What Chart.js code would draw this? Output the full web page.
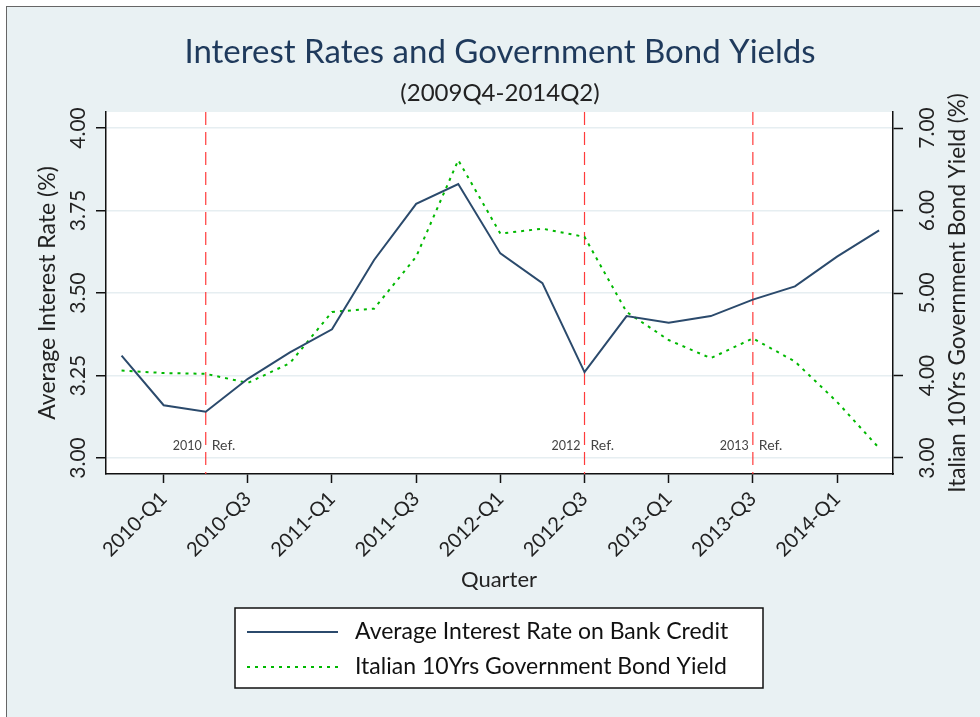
<!DOCTYPE html>
<html>
<head>
<meta charset="utf-8">
<script src="https://cdn.jsdelivr.net/npm/chart.js@4"></script>
<style>
  body { margin: 0; background: #ffffff; }
  #wrap { position: absolute; left: 0; top: 0; width: 980px; height: 717px; }
  #frame { position: absolute; left: 6px; top: 6px; right: 0; bottom: 0;
           background: #e9f1f3; border-top: 1px solid #666; border-left: 1px solid #666; }
  canvas { position: absolute; left: 0; top: 0; }
</style>
</head>
<body>
<div id="wrap">
  <div id="frame"></div>
  <canvas id="chart" width="980" height="717"></canvas>
</div>
<script>
// donnees
const quarters = ['2009-Q4','2010-Q1','2010-Q2','2010-Q3','2010-Q4','2011-Q1','2011-Q2','2011-Q3','2011-Q4',
  '2012-Q1','2012-Q2','2012-Q3','2012-Q4','2013-Q1','2013-Q2','2013-Q3','2013-Q4','2014-Q1','2014-Q2'];
const bankRate = [3.31, 3.16, 3.14, 3.24, 3.32, 3.39, 3.60, 3.77, 3.83,
  3.62, 3.53, 3.26, 3.43, 3.41, 3.43, 3.48, 3.52, 3.61, 3.69];
const bondYield = [4.06, 4.03, 4.02, 3.91, 4.15, 4.77, 4.81, 5.44, 6.61,
  5.72, 5.78, 5.68, 4.77, 4.43, 4.21, 4.45, 4.17, 3.68, 3.12];
const leftTicks = [3.00, 3.25, 3.50, 3.75, 4.00];
const rightTicks = [3.00, 4.00, 5.00, 6.00, 7.00];
const refQuarters = ['2010-Q2', '2012-Q3', '2013-Q3'];
const refYears = ['2010', '2012', '2013'];

const FONT = 'Lato, "Open Sans", sans-serif';

const decor = {
  id: 'decor',
  beforeDraw(chart) { // fond blanc de la zone du graphique
    const {ctx, chartArea: a} = chart;
    ctx.save();
    ctx.fillStyle = '#ffffff';
    ctx.fillRect(a.left, a.top, a.right - a.left, a.bottom - a.top);
    ctx.restore();
  },
  beforeDatasetsDraw(chart) { // lignes de reference rouges
    const {ctx, chartArea: a, scales} = chart;
    ctx.save();
    refQuarters.forEach((q, k) => {
      const x = scales.x.getPixelForValue(quarters.indexOf(q));
      ctx.strokeStyle = '#ff3b3b';
      ctx.lineWidth = 1.2;
      ctx.setLineDash([13, 7]);
      ctx.beginPath();
      ctx.moveTo(x, a.top);
      ctx.lineTo(x, a.bottom);
      ctx.stroke();
      ctx.fillStyle = '#444';
      ctx.textBaseline = 'middle';
      ctx.textAlign = 'right';
      ctx.font = '12.5px ' + FONT;
      ctx.fillText(refYears[k], x - 4, 446);
      ctx.textAlign = 'left';
      ctx.font = '14px ' + FONT;
      ctx.fillText('Ref.', x + 6, 445);
    });
    ctx.restore();
  },
  afterDraw(chart) {
    const {ctx, chartArea: a, scales} = chart;
    const midY = (a.top + a.bottom) / 2;
    ctx.save();
    // titres
    ctx.textAlign = 'center';
    ctx.textBaseline = 'middle';
    ctx.fillStyle = '#1f3a5c';
    ctx.font = '33px ' + FONT;
    ctx.fillText('Interest Rates and Government Bond Yields', 500, 52);
    ctx.fillStyle = '#222';
    ctx.font = '24px ' + FONT;
    ctx.fillText('(2009Q4-2014Q2)', 500, 93);
    // etiquettes des axes y (tournees)
    ctx.fillStyle = '#222';
    const rotText = (txt, x, y, size) => {
      ctx.save();
      ctx.translate(x, y);
      ctx.rotate(-Math.PI / 2);
      ctx.font = size + 'px ' + FONT;
      ctx.fillText(txt, 0, 0);
      ctx.restore();
    };
    leftTicks.forEach(v => rotText(v.toFixed(2), 78, scales.y.getPixelForValue(v), 21));
    rightTicks.forEach(v => rotText(v.toFixed(2), 927, scales.y1.getPixelForValue(v), 21));
    rotText('Average Interest Rate (%)', 48, midY, 23);
    rotText('Italian 10Yrs Government Bond Yield (%)', 958, midY, 22.5);
    ctx.font = '22px ' + FONT;
    ctx.fillText('Quarter', 499, 580);
    // legende
    ctx.fillStyle = '#ffffff';
    ctx.fillRect(235, 608, 528, 80);
    ctx.strokeStyle = '#111';
    ctx.lineWidth = 1.5;
    ctx.strokeRect(235, 608, 528, 80);
    chart.data.datasets.forEach((ds, i) => {
      const y = 632 + i * 35;
      ctx.strokeStyle = ds.borderColor;
      ctx.lineWidth = ds.borderWidth;
      ctx.setLineDash(ds.borderDash || []);
      ctx.beginPath();
      ctx.moveTo(247, y);
      ctx.lineTo(338, y);
      ctx.stroke();
      ctx.setLineDash([]);
      ctx.fillStyle = '#111';
      ctx.textAlign = 'left';
      ctx.font = '23px ' + FONT;
      ctx.fillText(ds.label, 355, y);
    });
    ctx.restore();
  }
};

new Chart(document.getElementById('chart'), {
  type: 'line',
  data: {
    datasets: [
      {
        label: 'Average Interest Rate on Bank Credit',
        data: bankRate.map((v, i) => ({x: i, y: v})),
        borderColor: '#2b4a6c',
        borderWidth: 2,
        pointRadius: 0,
        tension: 0,
        yAxisID: 'y'
      },
      {
        label: 'Italian 10Yrs Government Bond Yield',
        data: bondYield.map((v, i) => ({x: i, y: v})),
        borderColor: '#00b800',
        borderWidth: 2,
        borderDash: [3, 5],
        pointRadius: 0,
        tension: 0,
        yAxisID: 'y1'
      }
    ]
  },
  options: {
    responsive: false,
    animation: false,
    layout: { padding: { left: 0, right: 0, top: 112, bottom: 143 } },
    plugins: { legend: { display: false }, title: { display: false }, tooltip: { enabled: false } },
    scales: {
      x: {
        type: 'linear',
        min: -0.37,
        max: 18.33,
        afterBuildTicks: s => { s.ticks = quarters.map((q, i) => ({value: i})).filter(t => t.value % 2 === 1); },
        afterFit: s => { s.height = 100; },
        ticks: {
          minRotation: 45, maxRotation: 45, autoSkip: false, padding: 4,
          color: '#222', font: { family: FONT, size: 20 },
          callback: v => quarters[v]
        },
        grid: { drawOnChartArea: false, tickLength: 9, tickColor: '#111', tickWidth: 1.5 },
        border: { color: '#111', width: 1.5 }
      },
      y: {
        position: 'left',
        min: 2.9515, max: 4.0485,
        afterBuildTicks: s => { s.ticks = leftTicks.map(v => ({value: v})); },
        afterFit: s => { s.width = 106; },
        ticks: { display: false },
        grid: { color: '#e6eef1', lineWidth: 1.5, tickLength: 10, tickColor: '#111', tickWidth: 1.5 },
        border: { color: '#111', width: 1.5 }
      },
      y1: {
        position: 'right',
        min: 2.806, max: 7.194,
        afterBuildTicks: s => { s.ticks = rightTicks.map(v => ({value: v})); },
        afterFit: s => { s.width = 87; },
        ticks: { display: false },
        grid: { drawOnChartArea: false, tickLength: 10, tickColor: '#111', tickWidth: 1.5 },
        border: { color: '#111', width: 1.5 }
      }
    }
  },
  plugins: [decor]
});
</script>
</body>
</html>
